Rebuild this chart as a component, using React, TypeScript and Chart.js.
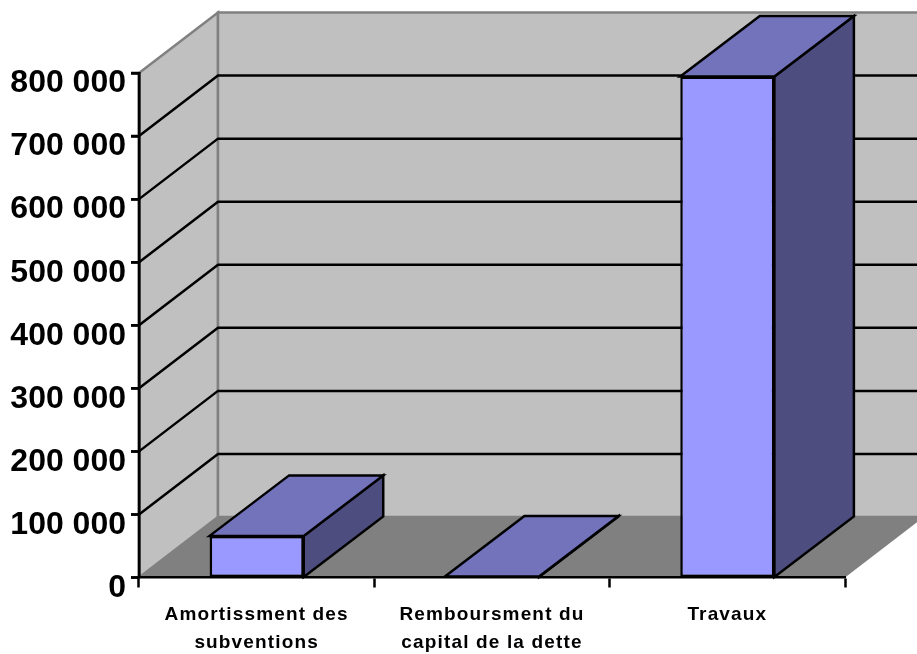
import React, { useEffect, useRef } from "react";
import { Chart, registerables } from "chart.js";

Chart.register(...registerables);

const categories: (string | string[])[] = [
  ["Amortissment des", "subventions"],
  ["Remboursment du", "capital de la dette"],
  "Travaux",
];
const values = [66000, 1500, 794500];
const tickStep = 100000;
const axisMax = 800000;

const DEPTH_X = 79;
const DEPTH_Y = -60.5;
const BAR_DEPTH_X = 79.5;
const Y_TICK = 8;

const poly = (ctx: CanvasRenderingContext2D, pts: number[][], fill: string | null, stroke: string | null, lw = 2) => {
  ctx.beginPath();
  pts.forEach(([x, y], i) => (i ? ctx.lineTo(x, y) : ctx.moveTo(x, y)));
  ctx.closePath();
  if (fill) {
    ctx.fillStyle = fill;
    ctx.fill();
  }
  if (stroke) {
    ctx.strokeStyle = stroke;
    ctx.lineWidth = lw;
    ctx.lineJoin = "miter";
    ctx.stroke();
  }
};

const walls3d = {
  id: "walls3d",
  beforeDraw(chart: any) {
    const { ctx, chartArea: a, scales } = chart;
    const y = scales.y;
    const top = a.top;
    const bot = a.bottom;
    ctx.save();
    poly(ctx, [[a.left, top], [a.left + DEPTH_X, top + DEPTH_Y], [a.left + DEPTH_X, bot + DEPTH_Y], [a.left, bot]], "#C0C0C0", "#808080", 2.5);
    poly(ctx, [[a.left + DEPTH_X, top + DEPTH_Y], [a.right + DEPTH_X, top + DEPTH_Y], [a.right + DEPTH_X, bot + DEPTH_Y], [a.left + DEPTH_X, bot + DEPTH_Y]], "#C0C0C0", "#808080", 2.5);
    poly(ctx, [[a.left, bot], [a.right, bot], [a.right + DEPTH_X, bot + DEPTH_Y], [a.left + DEPTH_X, bot + DEPTH_Y]], "#808080", null);
    ctx.strokeStyle = "#000000";
    ctx.lineWidth = 2.5;
    y.ticks.forEach((t: any) => {
      if (t.value <= 0 || t.value >= axisMax) return;
      const py = y.getPixelForValue(t.value);
      ctx.beginPath();
      ctx.moveTo(a.left, py);
      ctx.lineTo(a.left + DEPTH_X, py + DEPTH_Y);
      ctx.lineTo(a.right + DEPTH_X, py + DEPTH_Y);
      ctx.stroke();
    });
    ctx.restore();
    // category labels are drawn next, with the wide spacing of the reference
    (ctx as any).letterSpacing = "1.15px";
  },
  beforeDatasetsDraw(chart: any) {
    const { ctx, chartArea: a, scales } = chart;
    (ctx as any).letterSpacing = "0px";
    const meta = chart.getDatasetMeta(0);
    ctx.save();
    ctx.strokeStyle = "#000000";
    ctx.lineWidth = 2.5;
    ctx.beginPath();
    ctx.moveTo(a.left, a.top - 1);
    ctx.lineTo(a.left, a.bottom + 1);
    scales.y.ticks.forEach((t: any) => {
      const py = scales.y.getPixelForValue(t.value);
      ctx.moveTo(a.left - Y_TICK, py);
      ctx.lineTo(a.left, py);
    });
    ctx.stroke();
    meta.data.forEach((bar: any) => {
      const { x, y, base, width } = bar.getProps(["x", "y", "base", "width"], true);
      const l = x - width / 2;
      const r = x + width / 2;
      poly(ctx, [[r, y], [r + BAR_DEPTH_X, y + DEPTH_Y], [r + BAR_DEPTH_X, base + DEPTH_Y], [r, base]], "#4D4D80", "#000000", 2.5);
      poly(ctx, [[l, y], [l + BAR_DEPTH_X, y + DEPTH_Y], [r + BAR_DEPTH_X, y + DEPTH_Y], [r, y]], "#7373BC", "#000000", 2.5);
    });
    ctx.restore();
  },
};

export default function App() {
  const ref = useRef<HTMLCanvasElement>(null);
  useEffect(() => {
    const chart = new Chart(ref.current!, {
      type: "bar",
      data: {
        labels: categories as any,
        datasets: [
          {
            data: values,
            backgroundColor: "#9999FF",
            borderColor: "#000000",
            borderWidth: 2.5,
            borderSkipped: false,
            barPercentage: 0.4,
            categoryPercentage: 1,
          },
        ],
      },
      options: {
        animation: false,
        responsive: false,
        devicePixelRatio: 1,
        layout: { padding: { top: 73, right: 72, left: 0, bottom: 0 } },
        plugins: { legend: { display: false }, tooltip: { enabled: false } },
        scales: {
          x: {
            afterFit: (s: any) => {
              s.height = 76.5;
            },
            grid: { drawOnChartArea: false, tickLength: 10, tickColor: "#000000", tickWidth: 2.5 },
            border: { color: "#000000", width: 2.5 },
            ticks: {
              autoSkip: false,
              maxRotation: 0,
              minRotation: 0,
              padding: 13,
              color: "#000000",
              font: { family: "'Liberation Sans'", weight: "bold", size: 19, lineHeight: 1.5 },
            },
          },
          y: {
            min: 0,
            max: axisMax,
            afterFit: (s: any) => {
              s.width = 139;
            },
            grid: { drawOnChartArea: false, tickLength: Y_TICK, tickColor: "#000000", tickWidth: 2.5 },
            border: { color: "#000000", width: 2.5 },
            ticks: {
              z: 1,
              stepSize: tickStep,
              padding: 5,
              labelOffset: 10.5,
              color: "#000000",
              font: { family: "'Liberation Sans'", weight: "bold", size: 32 },
              callback: (v: any) => String(v).replace(/\B(?=(\d{3})+$)/g, " "),
            },
          },
        },
      },
      plugins: [walls3d],
    } as any);
    return () => chart.destroy();
  }, []);
  return (
    <canvas
      ref={ref}
      width={917}
      height={654}
      style={{ position: "fixed", left: 0, top: 0, display: "block", width: 917, height: 654 }}
    />
  );
}
